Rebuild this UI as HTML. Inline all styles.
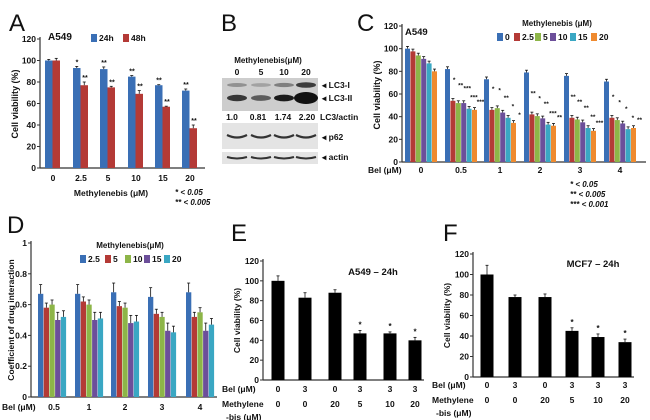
<!DOCTYPE html>
<html><head><meta charset="utf-8"><style>
html,body{margin:0;padding:0;background:#fff;}
svg{display:block;font-family:"Liberation Sans",Arial,sans-serif;}
text{font-weight:bold;fill:#111;}
text.letter{font-weight:normal;}
</style></head><body>
<svg id="fig" width="650" height="420" viewBox="0 0 650 420" xmlns="http://www.w3.org/2000/svg">
<g id="gA"></g>
<g id="gB"></g>
<g id="gC"></g>
<g id="gD"></g>
<g id="gE"></g>
<g id="gF"></g>
</svg>
<script>
// Panel A data
const aCategories = ["0","2.5","5","10","15","20"];
const a24h = [100,93,92,85,77,72];
const a48h = [100,77,75,69,57,37];
const a24hErr = [1,1.5,2,1,0.5,1.5];
const a48hErr = [2,3,1,3,0.5,3];
const a24hStars = ["","*","**","**","**","**"];
const a48hStars = ["","**","**","**","**","**"];
const aTicks = [0,20,40,60,80,100,120];
// Panel C data
const cCategories = ["0","0.5","1","2","3","4"];
const cSeriesNames = ["0","2.5","5","10","15","20"];
const cS0 = [100,82,73,79,76,71];
const cS25 = [97.6,54,46,42,39,39];
const cS5 = [94,52,47.5,40.5,37.5,37];
const cS10 = [91,52,43.6,38.5,35,34];
const cS15 = [87,47,39,33,30,29];
const cS20 = [80,46,34.5,32,27.5,30];
const cTicks = [0,20,40,60,80,100,120];
// Panel D data
const dCategories = ["0.5","1","2","3","4"];
const dSeriesNames = ["2.5","5","10","15","20"];
const dS25 = [0.67,0.67,0.68,0.65,0.68];
const dS5 = [0.58,0.62,0.59,0.54,0.52];
const dS10 = [0.60,0.60,0.58,0.52,0.55];
const dS15 = [0.50,0.50,0.48,0.43,0.43];
const dS20 = [0.52,0.51,0.49,0.42,0.47];
const dTicks = [0,0.2,0.4,0.6,0.8,1];
// Panel E data
const eBel = ["0","3","0","3","3","3"];
const eMeth = ["0","0","20","5","10","20"];
const eValues = [100,83,88,47,47,40];
const eErr = [5,5,3,3,1.5,3];
const eStars = ["","","","*","*","*"];
// Panel F data
const fBel = ["0","3","0","3","3","3"];
const fMeth = ["0","0","20","5","10","20"];
const fValues = [100,78,78,45,39,34];
const fErr = [9,2,3,3,3,3];
const fStars = ["","","","*","*","*"];
const efTicks = [0,20,40,60,80,100,120];
// Panel B values
const bDoses = ["0","5","10","20"];
const bRatios = ["1.0","0.81","1.74","2.20"];

const NS="http://www.w3.org/2000/svg";
function mk(parent,tag,attrs,txt){const e=document.createElementNS(NS,tag);for(const k in attrs)e.setAttribute(k,attrs[k]);if(txt!==undefined)e.textContent=txt;parent.appendChild(e);return e;}
function txt(p,x,y,s,size,anchor,name,extra){const t=mk(p,"text",Object.assign({x:x,y:y,"font-size":size,"text-anchor":anchor||"start"},extra||{}),s);


return t;}
function letter(p,x,y,s,name){const t=txt(p,x,y,s,24,"start",name,{"class":"letter",style:"font-weight:normal"});return t;}
function axes(p,x0,yTop,yBot,xEnd,ticks,max,fmt,name){
  const ys=v=>yBot-(v/max)*(yBot-yTop);
  const ax=mk(p,"line",{x1:x0,y1:yTop-2,x2:x0,y2:yBot,stroke:"#333","stroke-width":1.2});
  
  
  const bx=mk(p,"line",{x1:x0,y1:yBot,x2:xEnd,y2:yBot,stroke:"#333","stroke-width":1.2});
  
  
  ticks.forEach(v=>{const y=ys(v);mk(p,"line",{x1:x0-3,y1:y,x2:x0,y2:y,stroke:"#333"});
    txt(p,x0-4,y+3,fmt(v),8.5,"end",name+'-y-tick');});
  return ys;
}
function bar(p,x,w,ys,v,err,color,name){
  const y=ys(v),y0=ys(0);
  const r=mk(p,"rect",{x:x,y:y,width:w,height:y0-y,fill:color});
  
  
  if(err){const ye=ys(v+err);mk(p,"line",{x1:x+w/2,y1:y,x2:x+w/2,y2:ye,stroke:"#111","stroke-width":0.8});
    mk(p,"line",{x1:x+w/2-1.5,y1:ye,x2:x+w/2+1.5,y2:ye,stroke:"#111","stroke-width":0.8});}
  return r;
}
function legendRow(p,items,colors,xs,y,name){
  items.forEach((s,i)=>{const r=mk(p,"rect",{x:xs[i],y:y-7,width:6,height:8,fill:colors[i]});
    
    
    txt(p,xs[i]+8,y,s,8.5,"start",name+'-label');});
}
const BLUE="#3a6fb5",RED="#b43a36",GREEN="#8db548",PURPLE="#6c4f9a",CYAN="#3aa7c3",ORANGE="#ef8a2f";

// ---- Panel A ----
(function(){
  const g=document.getElementById("gA");
  letter(g,9,31,"A","panel-a-letter");
  const ys=axes(g,40,39,168,205,aTicks,120,v=>v,"panel-a");
  txt(g,48,40,"A549",10,"start","panel-a-cell-line");
  legendRow(g,["24h","48h"],[BLUE,RED],[91,123],41,"panel-a-legend");
  const cx=[53,81,108,136,163,190];
  aCategories.forEach((c,i)=>{
    bar(g,cx[i]-8,7.5,ys,a24h[i],a24hErr[i],BLUE,"bar-24h");
    bar(g,cx[i]-0.5,7.5,ys,a48h[i],a48hErr[i],RED,"bar-48h");
    txt(g,cx[i]-4,ys(a24h[i]+a24hErr[i])-2,a24hStars[i],7,"middle","sig-star");
    txt(g,cx[i]+4,ys(a48h[i]+a48hErr[i])-2,a48hStars[i],7,"middle","sig-star");
    txt(g,cx[i],181,c,8.5,"middle","panel-a-x-tick");
  });
  txt(g,111,196,"Methylenebis (μM)",8.5,"middle","panel-a-x-title");
  txt(g,175,195,"* < 0.05",8,"start","panel-a-p-note",{"font-style":"italic"});
  txt(g,175,205,"** < 0.005",8,"start","panel-a-p-note",{"font-style":"italic"});
  txt(g,18,104,"Cell viability (%)",9,"middle","panel-a-y-title",{transform:"rotate(-90 18 104)"});
})();

// ---- Panel B ----
(function(){
  const g=document.getElementById("gB");
  letter(g,221,31,"B","panel-b-letter");
  txt(g,268,63,"Methylenebis(μM)",8,"middle","panel-b-title");
  const lx=[237,261,284,306];
  bDoses.forEach((d,i)=>txt(g,lx[i],75,d,8.5,"middle","panel-b-dose"));
  const b1=mk(g,"rect",{x:222,y:78,width:96,height:33,fill:"#cdcdcd"});
  
  const b2=mk(g,"rect",{x:222,y:123,width:96,height:26,fill:"#e4e4e4"});
  
  const b3=mk(g,"rect",{x:222,y:152,width:96,height:12,fill:"#e4e4e4"});
  
  const lc1=[0.35,0.25,0.45,0.85],lc2=[0.8,0.6,0.95,1];
  lx.forEach((x,i)=>{
    mk(g,"ellipse",{cx:x,cy:85,rx:10,ry:1.5+lc1[i]*1.5,fill:"#222","fill-opacity":lc1[i]});
    mk(g,"ellipse",{cx:x,cy:98,rx:10+(i==3?2:0),ry:2+lc2[i]*(i==3?4:1.5),fill:"#111","fill-opacity":lc2[i]});
    mk(g,"path",{d:`M${x-10} 135 Q${x} 140 ${x+10} 135`,stroke:"#333","stroke-width":2.2,fill:"none"});
    mk(g,"path",{d:`M${x-10} 157 Q${x} 160 ${x+10} 157`,stroke:"#333","stroke-width":2,fill:"none"});
    txt(g,[232,258,283,307][i],120,bRatios[i],8.5,"middle","lc3-ratio");
  });
  txt(g,320,120,"LC3/actin",8.5,"start","lc3-ratio-label");
  txt(g,322,88,"◂ LC3-I",8.5,"start","lc3-i-label");
  txt(g,322,101,"◂ LC3-II",8.5,"start","lc3-ii-label");
  txt(g,322,140,"◂ p62",8.5,"start","p62-label");
  txt(g,322,160,"◂ actin",8.5,"start","actin-label");
})();

// ---- Panel C ----
(function(){
  const g=document.getElementById("gC");
  letter(g,357,31,"C","panel-c-letter");
  const ys=axes(g,402,26,162,646,cTicks,120,v=>v,"panel-c");
  txt(g,405,35,"A549",9.5,"start","panel-c-cell-line");
  txt(g,557,26,"Methylenebis (μM)",8,"middle","panel-c-legend-title");
  const cols=[BLUE,RED,GREEN,PURPLE,CYAN,ORANGE];
  legendRow(g,cSeriesNames,cols,[497,514,535,550,570,591],40,"panel-c-legend");
  const series=[cS0,cS25,cS5,cS10,cS15,cS20];
  const cx=[421,461,500,540,580,620];
  const stars=[["","","","","",""],["","*","**","***","***","***"],["","*","*","**","*","*"],["","**","*","**","***","**"],["","**","**","**","**","***"],["","*","*","*","*","**"]];
  cCategories.forEach((c,i)=>{
    series.forEach((s,j)=>{const x=cx[i]-16+j*5.4;bar(g,x,5,ys,s[i],2,cols[j],"bar-bel-"+c);
      if(stars[i][j]) txt(g,x+2.5+j*1.2,ys(s[i])-6-(5-j)*3.2,stars[i][j],6.5,"middle","sig-star");});
    txt(g,cx[i],173,c,8.5,"middle","panel-c-x-tick");
  });
  txt(g,368,173,"Bel (μM)",8.5,"start","panel-c-x-title");
  txt(g,570,187,"* < 0.05",8,"start","panel-c-p-note",{"font-style":"italic"});
  txt(g,570,197,"** < 0.005",8,"start","panel-c-p-note",{"font-style":"italic"});
  txt(g,570,207,"*** < 0.001",8,"start","panel-c-p-note",{"font-style":"italic"});
  txt(g,380,95,"Cell viability (%)",9,"middle","panel-c-y-title",{transform:"rotate(-90 380 95)"});
})();

// ---- Panel D ----
(function(){
  const g=document.getElementById("gD");
  letter(g,7,233,"D","panel-d-letter");
  const ys=axes(g,31,243,397,217,dTicks,1,v=>String(v),"panel-d");
  txt(g,130,248,"Methylenebis(μM)",8,"middle","panel-d-legend-title");
  const cols=[BLUE,RED,GREEN,PURPLE,CYAN];
  legendRow(g,dSeriesNames,cols,[80,105,125,144,164],262,"panel-d-legend");
  const series=[dS25,dS5,dS10,dS15,dS20];
  const errs=[0.06,0.03,0.03,0.05,0.04];
  const cx=[52,89,125,162,200];
  dCategories.forEach((c,i)=>{
    series.forEach((s,j)=>{bar(g,cx[i]-14+j*5.7,5.3,ys,s[i],errs[j],cols[j],"bar-bel-"+c);});
    txt(g,c==="0.5"?cx[i]+2:cx[i],410,c,8.5,"middle","panel-d-x-tick");
  });
  txt(g,2,410,"Bel (μM)",8.5,"start","panel-d-x-title");
  txt(g,14,320,"Coefficient of drug interaction",8.5,"middle","panel-d-y-title",{transform:"rotate(-90 14 320)"});
})();

// ---- Panels E, F ----
function simple(id,L,lx,ly,x0,yTop,yBot,xEnd,cxs,vals,errs,stars,bel,meth,title,tx,ty,rowY){
  const g=document.getElementById(id);
  letter(g,lx,ly,L,"panel-"+L.toLowerCase()+"-letter");
  const ys=axes(g,x0,yTop,yBot,xEnd,efTicks,120,v=>v,"panel-"+L.toLowerCase());
  txt(g,tx,ty,title,9.5,"middle","panel-"+L.toLowerCase()+"-title");
  vals.forEach((v,i)=>{bar(g,cxs[i]-6.5,13,ys,v,errs[i],"#000","bar-"+i);
    txt(g,cxs[i],ys(v+errs[i])-3,stars[i],8,"middle","sig-star");
    txt(g,cxs[i],rowY,bel[i],8.5,"middle","bel-value");
    txt(g,cxs[i],rowY+15,meth[i],8.5,"middle","methylenebis-value");});
  txt(g,x0-41,rowY,"Bel (μM)",8.5,"start","bel-row-label");
  txt(g,x0-41,rowY+15,"Methylene",8.5,"start","methylenebis-row-label");
  txt(g,x0-37,rowY+28,"-bis (μM)",8.5,"start","methylenebis-row-label");
  txt(g,x0-23,(yTop+yBot)/2,"Cell viability (%)",8.5,"middle","y-title",{transform:`rotate(-90 ${x0-23} ${(yTop+yBot)/2})`});
}
simple("gE","E",231,241,263,261,380,424,[278,305,335,360,390,415],eValues,eErr,eStars,eBel,eMeth,"A549 – 24h",373,275,392);
simple("gF","F",443,241,473,254,377,634,[487,515,545,572,598,625],fValues,fErr,fStars,fBel,fMeth,"MCF7 – 24h",593,267,388);
</script>
</body></html>
